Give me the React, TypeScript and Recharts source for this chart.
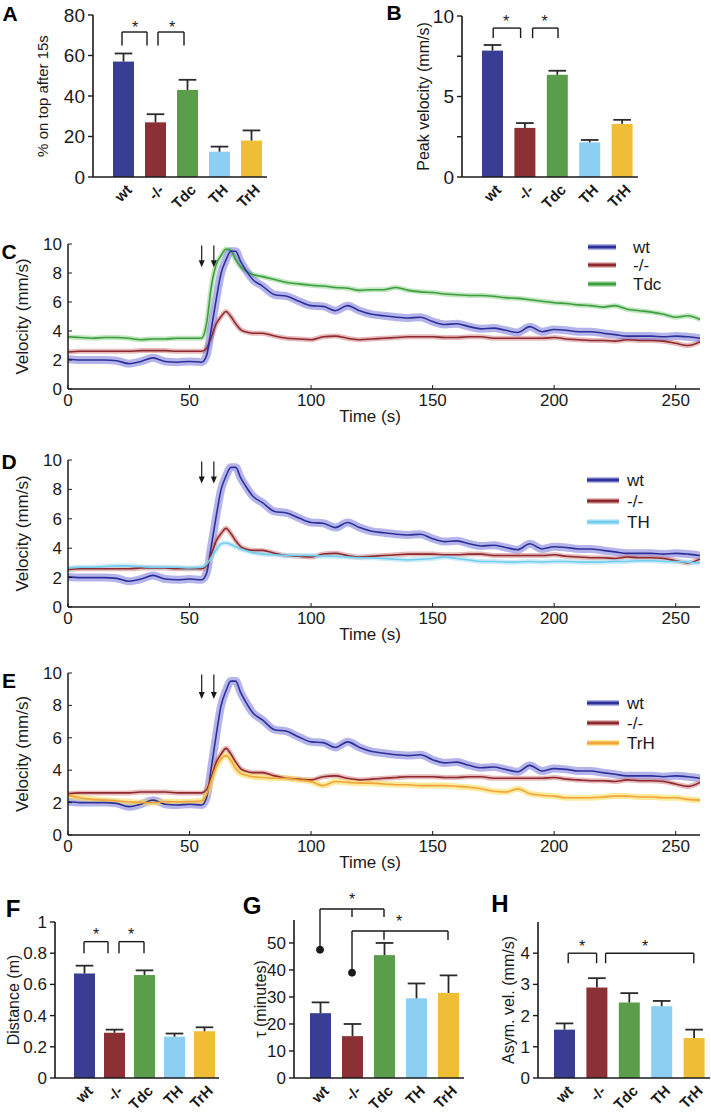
import React from 'react';
import { BarChart, Bar, LineChart, Line, XAxis, YAxis, ReferenceLine, ReferenceDot } from 'recharts';

const FONT = '"Liberation Sans", Arial, Helvetica, sans-serif';
const INK = '#1a1a1a';

// genotypes used by every bar panel
const groups = ['wt', '-/-', 'Tdc', 'TH', 'TrH'];

// A: % on top after 15s (mean, top of error bar)
const onTop = [57, 27, 43, 12.5, 18];
const onTopErr = [61, 31, 48, 15, 23];

// B: peak velocity (mm/s)
const peakVel = [7.85, 3.05, 6.35, 2.15, 3.3];
const peakVelErr = [8.2, 3.35, 6.6, 2.3, 3.55];

// F: distance (m)
const distance = [0.67, 0.29, 0.66, 0.265, 0.3];
const distanceErr = [0.72, 0.31, 0.69, 0.285, 0.325];

// G: tau (minutes)
const tau = [24, 15.5, 45.5, 29.5, 31.5];
const tauErr = [28, 20, 50, 35, 38];

// H: asymptotic velocity (mm/s)
const asymVel = [1.55, 2.9, 2.42, 2.3, 1.28];
const asymVelErr = [1.75, 3.2, 2.72, 2.47, 1.55];

// C-E: velocity time courses
const time = [
  0, 5, 10, 15, 20, 25, 30, 35, 40, 45, 50, 55,
  57, 59, 61, 63, 65, 67, 69, 71, 73, 76,
  80, 85, 90, 95, 100, 105, 110, 115, 120, 125, 130, 135, 140, 145, 150, 155, 160, 165,
  170, 175, 180, 185, 190, 195, 200, 205, 210, 215, 220, 225, 230, 235, 240, 245, 250, 255, 260,
];
const velWt = [
  2.05, 2.0, 2.0, 2.0, 1.95, 1.75, 1.9, 2.15, 1.9, 1.85, 1.9, 1.85,
  2.3, 4.2, 6.2, 8.0, 8.9, 9.5, 9.5, 8.8, 8.25, 7.55,
  7.1, 6.5, 6.4, 6.05, 5.75, 5.7, 5.4, 5.75, 5.4, 5.15, 5.05, 4.95, 4.9, 4.95, 4.65, 4.45, 4.5, 4.3,
  4.15, 4.2, 4.05, 3.9, 4.3, 3.95, 4.1, 4.05, 3.95, 3.95, 3.85, 3.75, 3.65, 3.65, 3.65, 3.6, 3.65, 3.6, 3.5,
];
const velKo = [
  2.55, 2.6, 2.6, 2.6, 2.6, 2.6, 2.65, 2.65, 2.65, 2.6, 2.6, 2.6,
  2.8, 3.6, 4.5, 5.0, 5.35, 5.0, 4.5, 4.1, 3.95, 3.85,
  3.85, 3.65, 3.5, 3.45, 3.4, 3.6, 3.65, 3.5, 3.4, 3.45, 3.5, 3.55, 3.6, 3.6, 3.6, 3.55, 3.55, 3.6,
  3.6, 3.5, 3.5, 3.5, 3.5, 3.5, 3.55, 3.45, 3.4, 3.35, 3.35, 3.3, 3.4, 3.35, 3.35, 3.3, 3.15, 3.0, 3.25,
];
const velTdc = [
  3.6, 3.55, 3.5, 3.55, 3.55, 3.5, 3.4, 3.45, 3.45, 3.5, 3.5, 3.5,
  4.5, 7.1, 8.6, 9.2, 9.65, 9.55, 8.9, 8.45, 8.15, 7.9,
  7.75, 7.55, 7.35, 7.25, 7.15, 7.1, 7.0, 6.95, 6.8, 6.85, 6.85, 7.0, 6.8, 6.7, 6.65, 6.55, 6.5, 6.45,
  6.45, 6.4, 6.3, 6.25, 6.15, 6.05, 5.95, 5.9, 5.8, 5.75, 5.65, 5.75, 5.5, 5.4, 5.3, 5.15, 4.95, 5.05, 4.8,
];
const velTH = [
  2.65, 2.7, 2.7, 2.75, 2.8, 2.8, 2.75, 2.7, 2.7, 2.7, 2.65, 2.7,
  2.9, 3.4, 3.9, 4.3, 4.35, 4.25, 4.1, 3.95, 3.85, 3.7,
  3.6, 3.55, 3.5, 3.5, 3.5, 3.45, 3.45, 3.4, 3.35, 3.35, 3.3, 3.25, 3.2, 3.25, 3.3, 3.4, 3.3, 3.2,
  3.1, 3.1, 3.05, 3.05, 3.1, 3.05, 3.1, 3.1, 3.05, 3.05, 3.05, 3.1, 3.1, 3.15, 3.15, 3.1, 3.1, 3.05, 3.0,
];
const velTrH = [
  2.45, 2.3, 2.2, 2.15, 2.1, 2.05, 2.0, 2.0, 2.05, 2.05, 2.05, 2.1,
  2.5, 3.4, 4.2, 4.7, 4.9, 4.6, 4.1, 3.8, 3.7, 3.6,
  3.55, 3.5, 3.5, 3.4, 3.3, 3.05, 3.3, 3.25, 3.2, 3.2, 3.15, 3.1, 3.1, 3.05, 3.05, 3.05, 3.0, 2.95,
  2.85, 2.7, 2.65, 2.85, 2.55, 2.45, 2.4, 2.3, 2.3, 2.3, 2.35, 2.4, 2.4, 2.35, 2.35, 2.3, 2.3, 2.2, 2.15,
];
const timeTicks = [0, 50, 100, 150, 200, 250];

const velocityRows = time.map((t, i) => ({
  t, wt: velWt[i], ko: velKo[i], tdc: velTdc[i], th: velTH[i], trh: velTrH[i],
}));

const BAR_COLORS: Record<string, string> = {
  wt: '#393e94', '-/-': '#8b3135', Tdc: '#5a9e4b', TH: '#8ccff3', TrH: '#f0bd37',
};

const SERIES: Record<string, { name: string; line: string; band: string; bw: number }> = {
  wt: { name: 'wt', line: '#2c3098', band: 'rgba(105,105,215,0.5)', bw: 8 },
  ko: { name: '-/-', line: '#8e2a2f', band: 'rgba(205,120,120,0.5)', bw: 5 },
  tdc: { name: 'Tdc', line: '#3e9e3e', band: 'rgba(140,210,140,0.55)', bw: 5 },
  th: { name: 'TH', line: '#72cdef', band: 'rgba(170,225,245,0.6)', bw: 5 },
  trh: { name: 'TrH', line: '#f0a43a', band: 'rgba(250,220,90,0.6)', bw: 6 },
};

// bar with an upward-only error whisker
const ErrBar = (p: any) => {
  const { x, y, width, height, payload } = p;
  const k = payload.v ? height / payload.v : 0;
  const ey = y - (payload.e - payload.v) * k;
  const cx = x + width / 2;
  const cw = width * 0.42;
  return (
    <g>
      <rect x={x} y={y} width={width} height={height} fill={BAR_COLORS[payload.name]} />
      <line x1={cx} x2={cx} y1={y} y2={ey} stroke="#2a2a2a" strokeWidth={1.8} />
      <line x1={cx - cw} x2={cx + cw} y1={ey} y2={ey} stroke="#2a2a2a" strokeWidth={1.8} />
    </g>
  );
};

const GroupTick = (p: any) => {
  const { x, y, payload } = p;
  const tx = x + 6;
  const ty = y + 2;
  return (
    <text x={tx} y={ty} transform={`rotate(-45 ${tx} ${ty})`} textAnchor="end" dominantBaseline="central"
      fontWeight="bold" fontSize={15} fontFamily={FONT} fill={INK}>
      {payload.value}
    </text>
  );
};

const seg = (key: string, a: [string, number], b: [string, number], dxa = 0, dxb = 0) => (
  <ReferenceLine key={key} ifOverflow="visible" segment={[{ x: a[0], y: a[1] }, { x: b[0], y: b[1] }]}
    shape={(p: any) => <line x1={p.x1 + dxa} y1={p.y1} x2={p.x2 + dxb} y2={p.y2} stroke={INK} strokeWidth={1.4} />} />
);

const bracket = (key: string, g1: string, g2: string, yTop: number, yLeg: number, dx1 = 0, dx2 = 0) => [
  seg(key + 'l', [g1, yLeg], [g1, yTop], dx1, dx1),
  seg(key + 't', [g1, yTop], [g2, yTop], dx1, dx2),
  seg(key + 'r', [g2, yTop], [g2, yLeg], dx2, dx2),
];

const star = (key: string, g: string, y: number, dx = 0) => (
  <ReferenceDot key={key} x={g} y={y} ifOverflow="visible"
    shape={(p: any) => (
      <text x={p.cx + dx} y={p.cy} textAnchor="middle" dominantBaseline="central" fontSize={16} fontFamily={FONT} fill={INK}>*</text>
    )} />
);

const dot = (key: string, g: string, y: number) => (
  <ReferenceDot key={key} x={g} y={y} r={3.5} fill={INK} stroke={INK} ifOverflow="visible" />
);

type BarPanelProps = {
  left: number; top: number; width: number; height: number;
  axisX: number; plotTop: number; plotBottom: number; plotRight: number; padLeft: number;
  values: number[]; tops: number[]; domain: [number, number]; ticks: number[];
  fmt?: (v: number) => string; label: string; labelX: number; tickFont: number; labelFont: number;
  extras?: React.ReactNode[];
};

function BarPanel(props: BarPanelProps) {
  const { left, top, width, height, axisX, plotTop, plotBottom, plotRight, padLeft, values, tops,
    domain, ticks, fmt, label, labelX, tickFont, labelFont, extras } = props;
  const rows = groups.map((g, i) => ({ name: g, v: values[i], e: tops[i] }));
  const yWidth = axisX - left;
  return (
    <div style={{ position: 'absolute', left, top, width, height }}>
      <BarChart width={width} height={height} data={rows}
        margin={{ top: plotTop - top, right: left + width - plotRight, bottom: 0, left: 0 }}>
        <XAxis dataKey="name" type="category" interval={0} height={top + height - plotBottom}
          padding={{ left: padLeft, right: 0 }} tickLine={false}
          axisLine={{ stroke: INK, strokeWidth: 1.6 }} tick={<GroupTick />} />
        <YAxis type="number" domain={domain} ticks={ticks} width={yWidth} allowDataOverflow
          tickFormatter={fmt} tickSize={5} tickMargin={3}
          axisLine={{ stroke: INK, strokeWidth: 1.6 }} tickLine={{ stroke: INK, strokeWidth: 1.4 }}
          tick={{ fontSize: tickFont, fontFamily: FONT, fill: INK }}
          label={{ value: label, angle: -90, position: 'center', dx: labelX - (left + yWidth / 2),
            style: { textAnchor: 'middle', fontSize: labelFont, fontFamily: FONT, fill: INK } }} />
        <Bar dataKey="v" barSize={21} shape={<ErrBar />} isAnimationActive={false} />
        {extras}
      </BarChart>
    </div>
  );
}

const Arrow = (p: any) => {
  const { x1, y1, x2, y2 } = p;
  return (
    <g>
      <line x1={x1} y1={y1} x2={x2} y2={y2 - 6} stroke={INK} strokeWidth={1.2} />
      <path d={`M${x2 - 3},${y2 - 7} L${x2 + 3},${y2 - 7} L${x2},${y2} Z`} fill={INK} />
    </g>
  );
};

function VelocityPanel({ top, plotTop, plotBottom, keys }: { top: number; plotTop: number; plotBottom: number; keys: string[] }) {
  const axisH = 40;
  const height = plotBottom - top + axisH;
  return (
    <div style={{ position: 'absolute', left: 0, top, width: 711, height }}>
      <LineChart width={711} height={height} data={velocityRows}
        margin={{ top: plotTop - top, right: 11, bottom: 0, left: 0 }}>
        <XAxis dataKey="t" type="number" domain={[0, 260]} ticks={timeTicks} height={axisH} allowDataOverflow
          tickSize={-4} tickMargin={9} axisLine={{ stroke: INK, strokeWidth: 1.5 }} tickLine={{ stroke: INK }}
          tick={{ fontSize: 17, fontFamily: FONT, fill: INK }}
          label={{ value: 'Time (s)', position: 'insideBottom', offset: 7, dx: -14,
            style: { fontSize: 17, fontFamily: FONT, fill: INK } }} />
        <YAxis type="number" domain={[0, 10]} ticks={[0, 2, 4, 6, 8, 10]} width={68} allowDataOverflow
          tickSize={-4} tickMargin={10} axisLine={{ stroke: INK, strokeWidth: 1.5 }} tickLine={{ stroke: INK }}
          tick={{ fontSize: 17, fontFamily: FONT, fill: INK }}
          label={{ value: 'Velocity (mm/s)', angle: -90, position: 'center', dx: -12,
            style: { textAnchor: 'middle', fontSize: 17, fontFamily: FONT, fill: INK } }} />
        {keys.map((k) => (
          <Line key={k + 'band'} dataKey={k} type="monotone" stroke={SERIES[k].band} strokeWidth={SERIES[k].bw}
            dot={false} activeDot={false} isAnimationActive={false} strokeLinecap="round" strokeLinejoin="round" />
        ))}
        {keys.map((k) => (
          <Line key={k} dataKey={k} type="monotone" stroke={SERIES[k].line} strokeWidth={1.6}
            dot={false} activeDot={false} isAnimationActive={false} />
        ))}
        <ReferenceLine ifOverflow="visible" segment={[{ x: 55, y: 9.9 }, { x: 55, y: 8.4 }]} shape={Arrow} />
        <ReferenceLine ifOverflow="visible" segment={[{ x: 60, y: 9.9 }, { x: 60, y: 8.4 }]} shape={Arrow} />
      </LineChart>
    </div>
  );
}

function Legend({ keys, ys, x0, x1, tx }: { keys: string[]; ys: number[]; x0: number; x1: number; tx: number }) {
  return (
    <g>
      {keys.map((k, i) => (
        <g key={k}>
          <line x1={x0} x2={x1} y1={ys[i]} y2={ys[i]} stroke={SERIES[k].band} strokeWidth={6} />
          <line x1={x0} x2={x1} y1={ys[i]} y2={ys[i]} stroke={SERIES[k].line} strokeWidth={3} />
          <text x={tx} y={ys[i]} dominantBaseline="central" fontSize={17} fontFamily={FONT} fill={INK}>{SERIES[k].name}</text>
        </g>
      ))}
    </g>
  );
}

const letters: [string, number, number, number][] = [
  ['A', 10, 13, 21], ['B', 394, 12, 21], ['C', 9, 251, 21], ['D', 9, 461, 21], ['E', 9, 680, 21],
  ['F', 13, 908, 24], ['G', 252, 905, 24], ['H', 500, 903, 24],
];

export default function App() {
  return (
    <div style={{ position: 'absolute', left: 0, top: 0, width: 711, height: 1115, background: '#fff', fontFamily: FONT }}>
      <BarPanel left={0} top={0} width={280} height={230} axisX={93} plotTop={15} plotBottom={177} plotRight={267}
        padLeft={14} values={onTop} tops={onTopErr} domain={[0, 80]} ticks={[0, 20, 40, 60, 80]}
        label="% on top after 15s" labelX={43} tickFont={19} labelFont={15}
        extras={[
          ...bracket('a1', 'wt', '-/-', 71.6, 65, -1, -8),
          ...bracket('a2', '-/-', 'Tdc', 71.6, 65, 3, -3),
          star('as1', 'wt', 74, 12), star('as2', '-/-', 74, 17),
        ]} />
      <BarPanel left={360} top={0} width={300} height={230} axisX={462} plotTop={16} plotBottom={177} plotRight={638}
        padLeft={14} values={peakVel} tops={peakVelErr} domain={[0, 10]} ticks={[0, 2.5, 5, 7.5, 10]}
        fmt={(v) => (Number.isInteger(v) ? String(v) : '')}
        label="Peak velocity (mm/s)" labelX={423} tickFont={19} labelFont={16}
        extras={[
          ...bracket('b1', 'wt', '-/-', 9.25, 8.63, 1, -4),
          ...bracket('b2', '-/-', 'Tdc', 9.25, 8.63, 8, 1),
          star('bs1', 'wt', 9.65, 14), star('bs2', '-/-', 9.65, 20),
        ]} />

      <VelocityPanel top={230} plotTop={244} plotBottom={389} keys={['tdc', 'ko', 'wt']} />
      <VelocityPanel top={446} plotTop={460} plotBottom={607} keys={['wt', 'ko', 'th']} />
      <VelocityPanel top={659} plotTop={673} plotBottom={835} keys={['wt', 'ko', 'trh']} />

      <BarPanel left={0} top={880} width={235} height={235} axisX={55} plotTop={922} plotBottom={1078} plotRight={219}
        padLeft={14} values={distance} tops={distanceErr} domain={[0, 1]} ticks={[0, 0.2, 0.4, 0.6, 0.8, 1]}
        label="Distance (m)" labelX={13} tickFont={17} labelFont={16}
        extras={[
          ...bracket('f1', 'wt', '-/-', 0.874, 0.8, 0, -6),
          ...bracket('f2', '-/-', 'Tdc', 0.874, 0.8, 5, 0),
          star('fs1', 'wt', 0.92, 12), star('fs2', '-/-', 0.92, 17),
        ]} />
      <BarPanel left={235} top={880} width={285} height={235} axisX={294} plotTop={920} plotBottom={1078} plotRight={464}
        padLeft={10} values={tau} tops={tauErr} domain={[0, 58.5]} ticks={[0, 10, 20, 30, 40, 50]}
        label="τ (minutes)" labelX={260} tickFont={17} labelFont={16}
        extras={[
          seg('g1l', ['wt', 47.5], ['wt', 62.6]),
          seg('g1t', ['wt', 62.6], ['Tdc', 62.6]),
          seg('g1m', ['-/-', 62.6], ['-/-', 59.6]),
          seg('g1r', ['Tdc', 62.6], ['Tdc', 59.6]),
          seg('g2l', ['-/-', 39], ['-/-', 54.4]),
          seg('g2t', ['-/-', 54.4], ['TrH', 54.4]),
          seg('g2m', ['Tdc', 54.4], ['Tdc', 51.2]),
          seg('g2r', ['TrH', 54.4], ['TrH', 51.1]),
          dot('gd1', 'wt', 47.5), dot('gd2', '-/-', 39),
          star('gs1', '-/-', 66, 0), star('gs2', 'Tdc', 57.8, 15),
        ]} />
      <BarPanel left={490} top={880} width={221} height={235} axisX={538} plotTop={922} plotBottom={1078} plotRight={710}
        padLeft={10} values={asymVel} tops={asymVelErr} domain={[0, 5]} ticks={[0, 1, 2, 3, 4]}
        label="Asym. vel. (mm/s)" labelX={508} tickFont={17} labelFont={16}
        extras={[
          ...bracket('h1', 'wt', '-/-', 4.0, 3.68, 4, 0),
          ...bracket('h2', '-/-', 'TrH', 4.0, 3.68, 9, 0),
          star('hs1', 'wt', 4.2, 18), star('hs2', 'Tdc', 4.2, 16),
        ]} />

      <svg width={711} height={1115} style={{ position: 'absolute', left: 0, top: 0, pointerEvents: 'none' }}>
        {letters.map(([l, x, y, s]) => (
          <text key={l} x={x} y={y} textAnchor="middle" dominantBaseline="central" fontWeight="bold"
            fontSize={s} fontFamily={FONT} fill="#000">{l}</text>
        ))}
        <Legend keys={['wt', 'ko', 'tdc']} ys={[247, 265, 284]} x0={588} x1={616} tx={633} />
        <Legend keys={['wt', 'ko', 'th']} ys={[480, 501, 522]} x0={587} x1={619} tx={627} />
        <Legend keys={['wt', 'ko', 'trh']} ys={[703, 723, 743]} x0={587} x1={619} tx={627} />
      </svg>
    </div>
  );
}
